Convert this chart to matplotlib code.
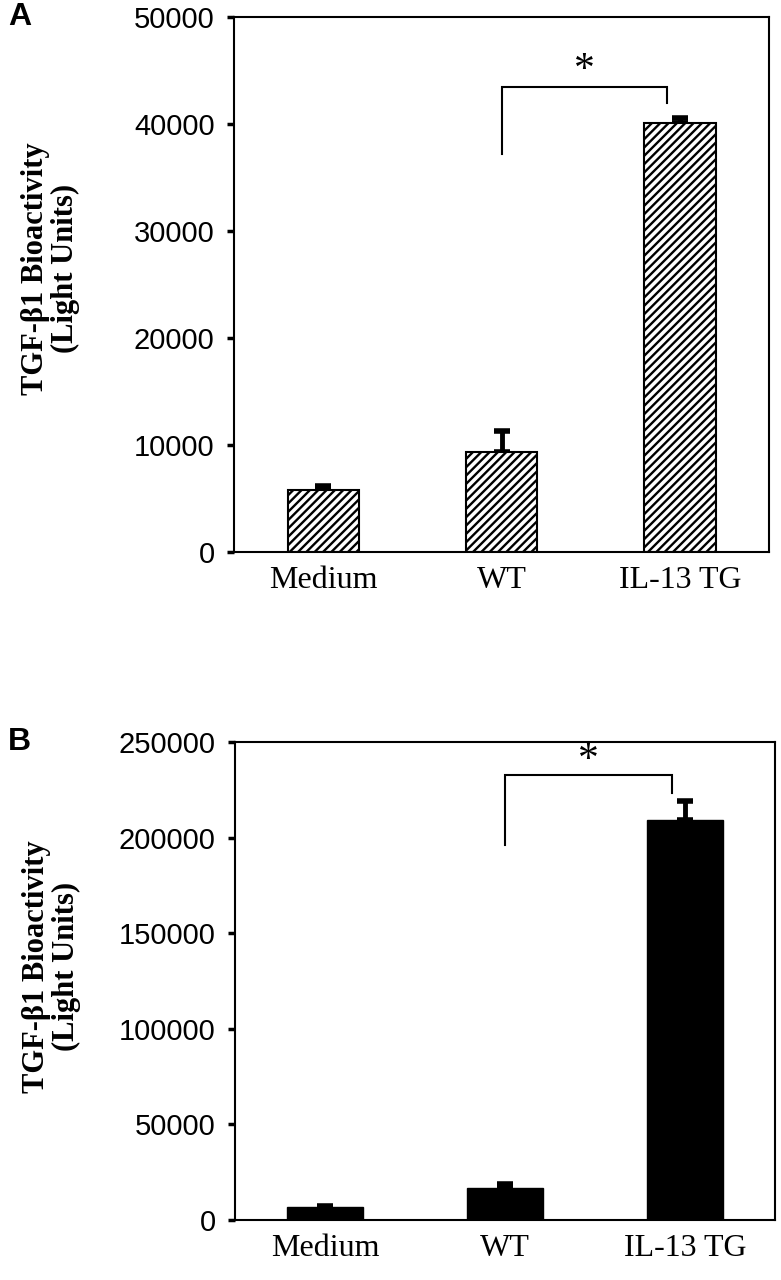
import matplotlib
matplotlib.use("Agg")
import matplotlib.pyplot as plt
import numpy as np

categories = ["Medium", "WT", "IL-13 TG"]

# Panel A values (hatched bars)
a_values = [5800, 9300, 40100]
a_err = [350, 2000, 450]
a_yticks = [0, 10000, 20000, 30000, 40000, 50000]
a_bracket = {"left_bottom": 37200, "top": 43500, "right_bottom": 42000, "star": 45000}

# Panel B values (solid bars)
b_values = [6800, 16500, 209000]
b_err = [300, 2500, 10000]
b_yticks = [0, 50000, 100000, 150000, 200000, 250000]
b_bracket = {"left_bottom": 196000, "top": 233000, "right_bottom": 223500, "star": 240000}

ylabel = "TGF-\u03b21 Bioactivity\n(Light Units)"

plt.rcParams["hatch.linewidth"] = 1.7
W, H = 781, 1280
fig = plt.figure(figsize=(W / 100, H / 100), dpi=100)

def make_axes(l, t, r, b):
    return fig.add_axes([l / W, 1 - b / H, (r - l) / W, (b - t) / H])

axA = make_axes(234, 17, 769, 552)
axB = make_axes(235, 742, 775, 1220)

def draw(ax, values, err, yticks, bracket, hatched, panel, ymax):
    x = np.arange(len(categories))
    ax.errorbar(x, values, yerr=[np.zeros(len(err)), err], fmt="none",
                ecolor="black", elinewidth=3.5, capsize=6, capthick=4, zorder=1)
    if hatched:
        ax.bar(x, values, width=0.40, color="white", edgecolor="black",
               linewidth=1.5, hatch="////", zorder=2)
    else:
        ax.bar(x, values, width=0.42, color="black", edgecolor="black",
               linewidth=1.0, zorder=2)
    ax.set_xlim(-0.5, 2.5)
    ax.set_ylim(0, ymax)
    ax.set_yticks(yticks)
    ax.set_yticklabels([str(v) for v in yticks], fontsize=21,
                       family="Liberation Sans")
    ax.set_xticks(x)
    ax.set_xticklabels(categories, fontsize=23, family="Liberation Serif")
    ax.tick_params(axis="x", length=0, pad=10)
    ax.tick_params(axis="y", direction="out", length=5, width=2.5, pad=9)
    for s in ax.spines.values():
        s.set_linewidth(1.5)
        s.set_color("black")
    # significance bracket
    xl, xr = 1.0, 1.93
    ax.plot([xl, xl, xr, xr],
            [bracket["left_bottom"], bracket["top"], bracket["top"], bracket["right_bottom"]],
            color="black", lw=1.5, zorder=4, solid_joinstyle="miter")
    ax.text((xl + xr) / 2, bracket["star"], "*", ha="center", va="center",
            fontsize=30, family="Liberation Serif")
    ax.set_ylabel(ylabel, fontsize=22, fontweight="bold",
                  family="Liberation Serif", linespacing=1.05)
    pos = ax.get_position()
    ax.yaxis.set_label_coords((80 - 234) / (pos.width * W), 0.53)
    fig.text(8 / W, pos.y1, panel, fontsize=23, fontweight="bold",
             family="Liberation Sans", ha="left", va="center")

draw(axA, a_values, a_err, a_yticks, a_bracket, True, "A", 50000)
draw(axB, b_values, b_err, b_yticks, b_bracket, False, "B", 250000)

fig.savefig("out.png", dpi=100, facecolor="white")
